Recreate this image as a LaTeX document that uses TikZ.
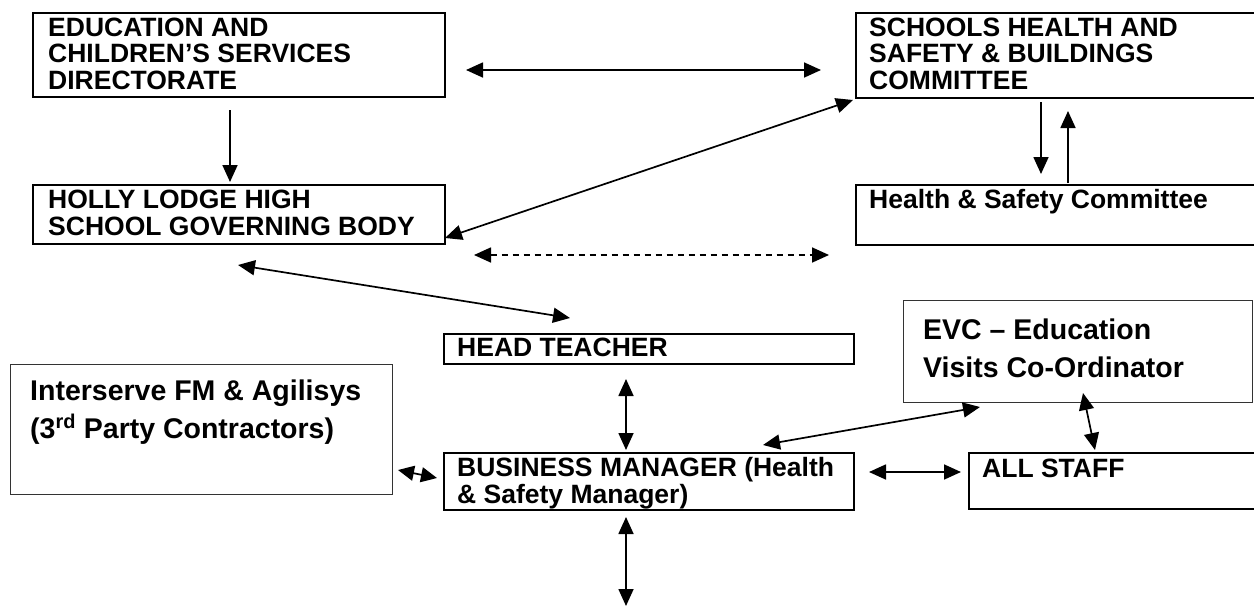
\documentclass[tikz,border=0pt]{standalone}
\usepackage{fontspec}
\setmainfont{Liberation Sans}
\usetikzlibrary{arrows.meta}
\begin{document}
\begin{tikzpicture}[x=1pt,y=-1pt,
  box/.style={draw=black, line width=2.2pt, inner sep=0pt, anchor=north west},
  thinbox/.style={draw=black!80, line width=1.3pt, inner sep=0pt, anchor=north west},
  txt/.style={font=\fontsize{26.5}{26.5}\selectfont\bfseries, align=left, inner sep=0pt, anchor=base west},
  bigtxt/.style={font=\fontsize{28.5}{38}\selectfont\bfseries, align=left, inner sep=0pt, anchor=base west},
  link/.style={line width=1.7pt, {Triangle[length=17pt,width=15pt]}-{Triangle[length=17pt,width=15pt]}},
  oneway/.style={line width=1.7pt, -{Triangle[length=17pt,width=15pt]}},
  smalllink/.style={line width=1.7pt, {Triangle[length=16pt,width=15pt]}-{Triangle[length=16pt,width=15pt]}}]
\useasboundingbox (0,0) rectangle (1254,608);
\clip (0,0) rectangle (1254,608);
\fill[white] (0,0) rectangle (1254,608);

% boxes
\node[box, minimum width=412pt, minimum height=84pt] (edu) at (32,12) {};
\node[box, minimum width=403pt, minimum height=85pt] (shb) at (855,12) {};
\node[box, minimum width=412pt, minimum height=59pt] (holly) at (32,184) {};
\node[box, minimum width=403pt, minimum height=60pt] (hsc) at (855,184) {};
\node[box, minimum width=410pt, minimum height=30pt] (head) at (443,333) {};
\node[thinbox, minimum width=382pt, minimum height=130pt] (inter) at (10,364) {};
\node[thinbox, minimum width=349pt, minimum height=102pt] (evc) at (903,300) {};
\node[box, minimum width=410pt, minimum height=57pt] (bm) at (443,452) {};
\node[box, minimum width=290pt, minimum height=56pt] (staff) at (968,452) {};

% texts (anchor = baseline of the last line)
\node[txt] (edut) at (48,89) {EDUCATION AND\\CHILDREN’S SERVICES\\DIRECTORATE};
\node[txt] (shbt) at (869,89) {SCHOOLS HEALTH AND\\SAFETY \& BUILDINGS\\COMMITTEE};
\node[txt] (hollyt) at (48,235) {HOLLY LODGE HIGH\\SCHOOL GOVERNING BODY};
\node[txt] (hsct) at (869,208) {Health \& Safety Committee};
\node[txt] (headt) at (457,356) {HEAD TEACHER};
\node[bigtxt] (intert) at (30,438) {Interserve FM \& Agilisys\\(3\textsuperscript{rd} Party Contractors)};
\node[bigtxt] (evct) at (923,377) {EVC – Education\\Visits Co-Ordinator};
\node[txt] (bmt) at (457,503) {BUSINESS MANAGER (Health\\\& Safety Manager)};
\node[txt] (stafft) at (982,477) {ALL STAFF};

% connector end points
\coordinate (c1a) at (466,70);   \coordinate (c1b) at (821,70);
\coordinate (c2a) at (230,110);  \coordinate (c2b) at (230,182);
\coordinate (c3a) at (445,238);  \coordinate (c3b) at (853,100);
\coordinate (c4a) at (474,255);  \coordinate (c4b) at (829,255);
\coordinate (c5a) at (1041,102); \coordinate (c5b) at (1041,174);
\coordinate (c6a) at (1068,183); \coordinate (c6b) at (1068,111);
\coordinate (c7a) at (238,265);  \coordinate (c7b) at (570,318);
\coordinate (c8a) at (626,379);  \coordinate (c8b) at (626,450);
\coordinate (c9a) at (398,470);  \coordinate (c9b) at (437,478);
\coordinate (c10a) at (763,445); \coordinate (c10b) at (980,407);
\coordinate (c11a) at (869,472); \coordinate (c11b) at (961,472);
\coordinate (c12a) at (1083,393);\coordinate (c12b) at (1095,450);
\coordinate (c13a) at (626,517); \coordinate (c13b) at (626,606);

% connectors
\draw[link] (c1a) -- (c1b);
\draw[oneway] (c2a) -- (c2b);
\draw[link] (c3a) -- (c3b);
\draw[link, dash pattern=on 6pt off 5pt] (c4a) -- (c4b);
\draw[oneway] (c5a) -- (c5b);
\draw[oneway] (c6a) -- (c6b);
\draw[link] (c7a) -- (c7b);
\draw[link] (c8a) -- (c8b);
\draw[smalllink] (c9a) -- (c9b);
\draw[link] (c10a) -- (c10b);
\draw[link] (c11a) -- (c11b);
\draw[link] (c12a) -- (c12b);
\draw[link] (c13a) -- (c13b);
\end{tikzpicture}
\end{document}
